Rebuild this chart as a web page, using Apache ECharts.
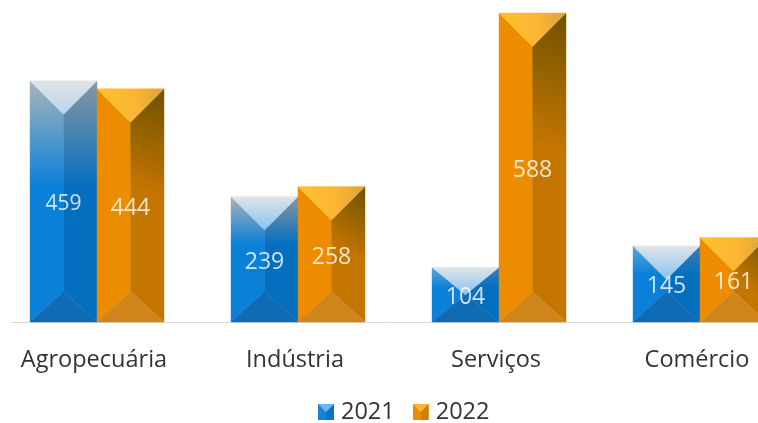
<!DOCTYPE html>
<html><head><meta charset="utf-8">
<script src="https://cdn.jsdelivr.net/npm/echarts@6/dist/echarts.min.js"></script>
<style>html,body{margin:0;padding:0;background:#fff;overflow:hidden}#c{width:758px;height:423px}</style>
</head><body><div id="c"></div>
<script>
const categories = ['Agropecuária','Indústria','Serviços','Comércio'];
const values2021 = [459,239,104,145];
const values2022 = [444,258,588,161];

const FONT = '"Open Sans","Noto Sans",sans-serif';
const lg = (x0,y0,x1,y1,stops)=>new echarts.graphic.LinearGradient(x0,y0,x1,y1,stops.map(s=>({offset:s[0],color:s[1]})));

const palette = {
  blue:{
    top:(h)=>lg(0,0,0,1,[[0,'#e2e4e6'],[1,h>200?'#b5d6f0':'#86c4f2']]),
    left:(h)=>lg(0,0,0,1,[[0,h>100?'#aab4bb':'#5fa6dc'],[h>200?0.44:0.38,'#0a80d8'],[1,'#0a80d8']]),
    right:(h)=>lg(0,0,0,1,[[0,h>100?'#8a97a2':'#3a7fb4'],[h>200?0.44:0.38,'#046fbf'],[1,'#046fbf']]),
    bottom:'#0f6bb3'
  },
  orange:{
    top:()=>lg(0,0,1,0,[[0,'#ffc32e'],[0.6,'#fbb433'],[1,'#d9a33c']]),
    left:()=>'#ee8c00',
    right:()=>lg(1,0,0,0.42,[[0,'#6e5200'],[1,'#c47600']]),
    bottom:'#d0851a'
  }
};

function bevelBar(colors, side){
  return function(params, api){
    const idx = api.value(0);
    const p = api.coord([idx, api.value(1)]);
    const b = api.coord([idx, 0]);
    const band = api.size([1,0])[0];
    const w = band/3;
    const x0 = side<0 ? p[0]-w : p[0];
    const x1 = x0+w;
    const top = p[1], bot = b[1], h = bot-top, mx=(x0+x1)/2;
    const d = Math.min(w/2, h/2);
    const dB = Math.min(w/2-3, h/2);
    const poly=(pts,fill)=>({type:'polygon',shape:{points:pts},style:{fill,stroke:fill,lineWidth:0.4}});
    return {type:'group',children:[
      poly([[x0,top],[mx,top+d],[mx,bot-dB],[x0,bot]],colors.left(h)),
      poly([[x1,top],[mx,top+d],[mx,bot-dB],[x1,bot]],colors.right(h)),
      poly([[x0,bot],[mx,bot-dB],[x1,bot]],colors.bottom),
      poly([[x0,top],[x1,top],[mx,top+d]],colors.top(h))
    ]};
  };
}
function series(name,vals,colors,side){
  return {type:'custom',name,encode:{x:0,y:1},data:vals.map((v,i)=>[i,v]),
    renderItem:bevelBar(colors,side),clip:false,itemStyle:{color:colors===palette.blue?'#0a80d8':'#ee8c00'},z:2};
}
// value labels sit near the vertical middle of each bar
function labels(name,vals,side){
  return {type:'scatter',name:name+' rótulos',data:vals.map((v,i)=>({value:[i,v/2],label:{fontSize:v===459?21:23}})),
    symbolSize:0,silent:true,z:5,
    label:{show:true,position:'inside',color:'#fff',fontFamily:FONT,fontSize:23,
      offset:[side*33.5,3],formatter:p=>vals[p.dataIndex]}};
}
const svgIcon = (main,dark,top)=>'image://data:image/svg+xml;utf8,'+encodeURIComponent(
  `<svg xmlns="http://www.w3.org/2000/svg" width="16" height="16"><rect width="16" height="16" fill="${main}"/><path d="M16 0L8 8V16H16Z" fill="${dark}"/><path d="M0 0H16L8 8Z" fill="${top}"/></svg>`);

const chart = echarts.init(document.getElementById('c'),null,{renderer:'canvas'});
chart.setOption({
  animation:false,
  backgroundColor:'#fff',
  grid:{left:-3.5,width:804,top:13,height:309,outerBoundsMode:'none',containLabel:false},
  xAxis:{type:'category',data:categories,axisLine:{show:false},axisTick:{show:false},
    axisLabel:{color:'#333333',fontFamily:FONT,fontSize:23.5,margin:26,interval:0,align:'center',padding:[0,6,0,0]}},
  yAxis:{type:'value',min:0,max:588,show:false},
  legend:{data:[
      {name:'2021',icon:svgIcon('#1a82d6','#0c74c4','#6fb4ec')},
      {name:'2022',icon:svgIcon('#ee8c00','#d07c00','#fbb433')}],
    top:400,left:318,padding:0,itemWidth:16,itemHeight:16,itemGap:18,
    textStyle:{color:'#333333',fontFamily:FONT,fontSize:23.5,padding:[0,0,0,2]}},
  graphic:[{type:'line',shape:{x1:11,y1:322.5,x2:758,y2:322.5},style:{stroke:'#d9d9d9',lineWidth:1},z:1}],
  series:[
    series('2021',values2021,palette.blue,-1),
    series('2022',values2022,palette.orange,1),
    labels('2021',values2021,-1),
    labels('2022',values2022,1)
  ]
});
</script></body></html>
